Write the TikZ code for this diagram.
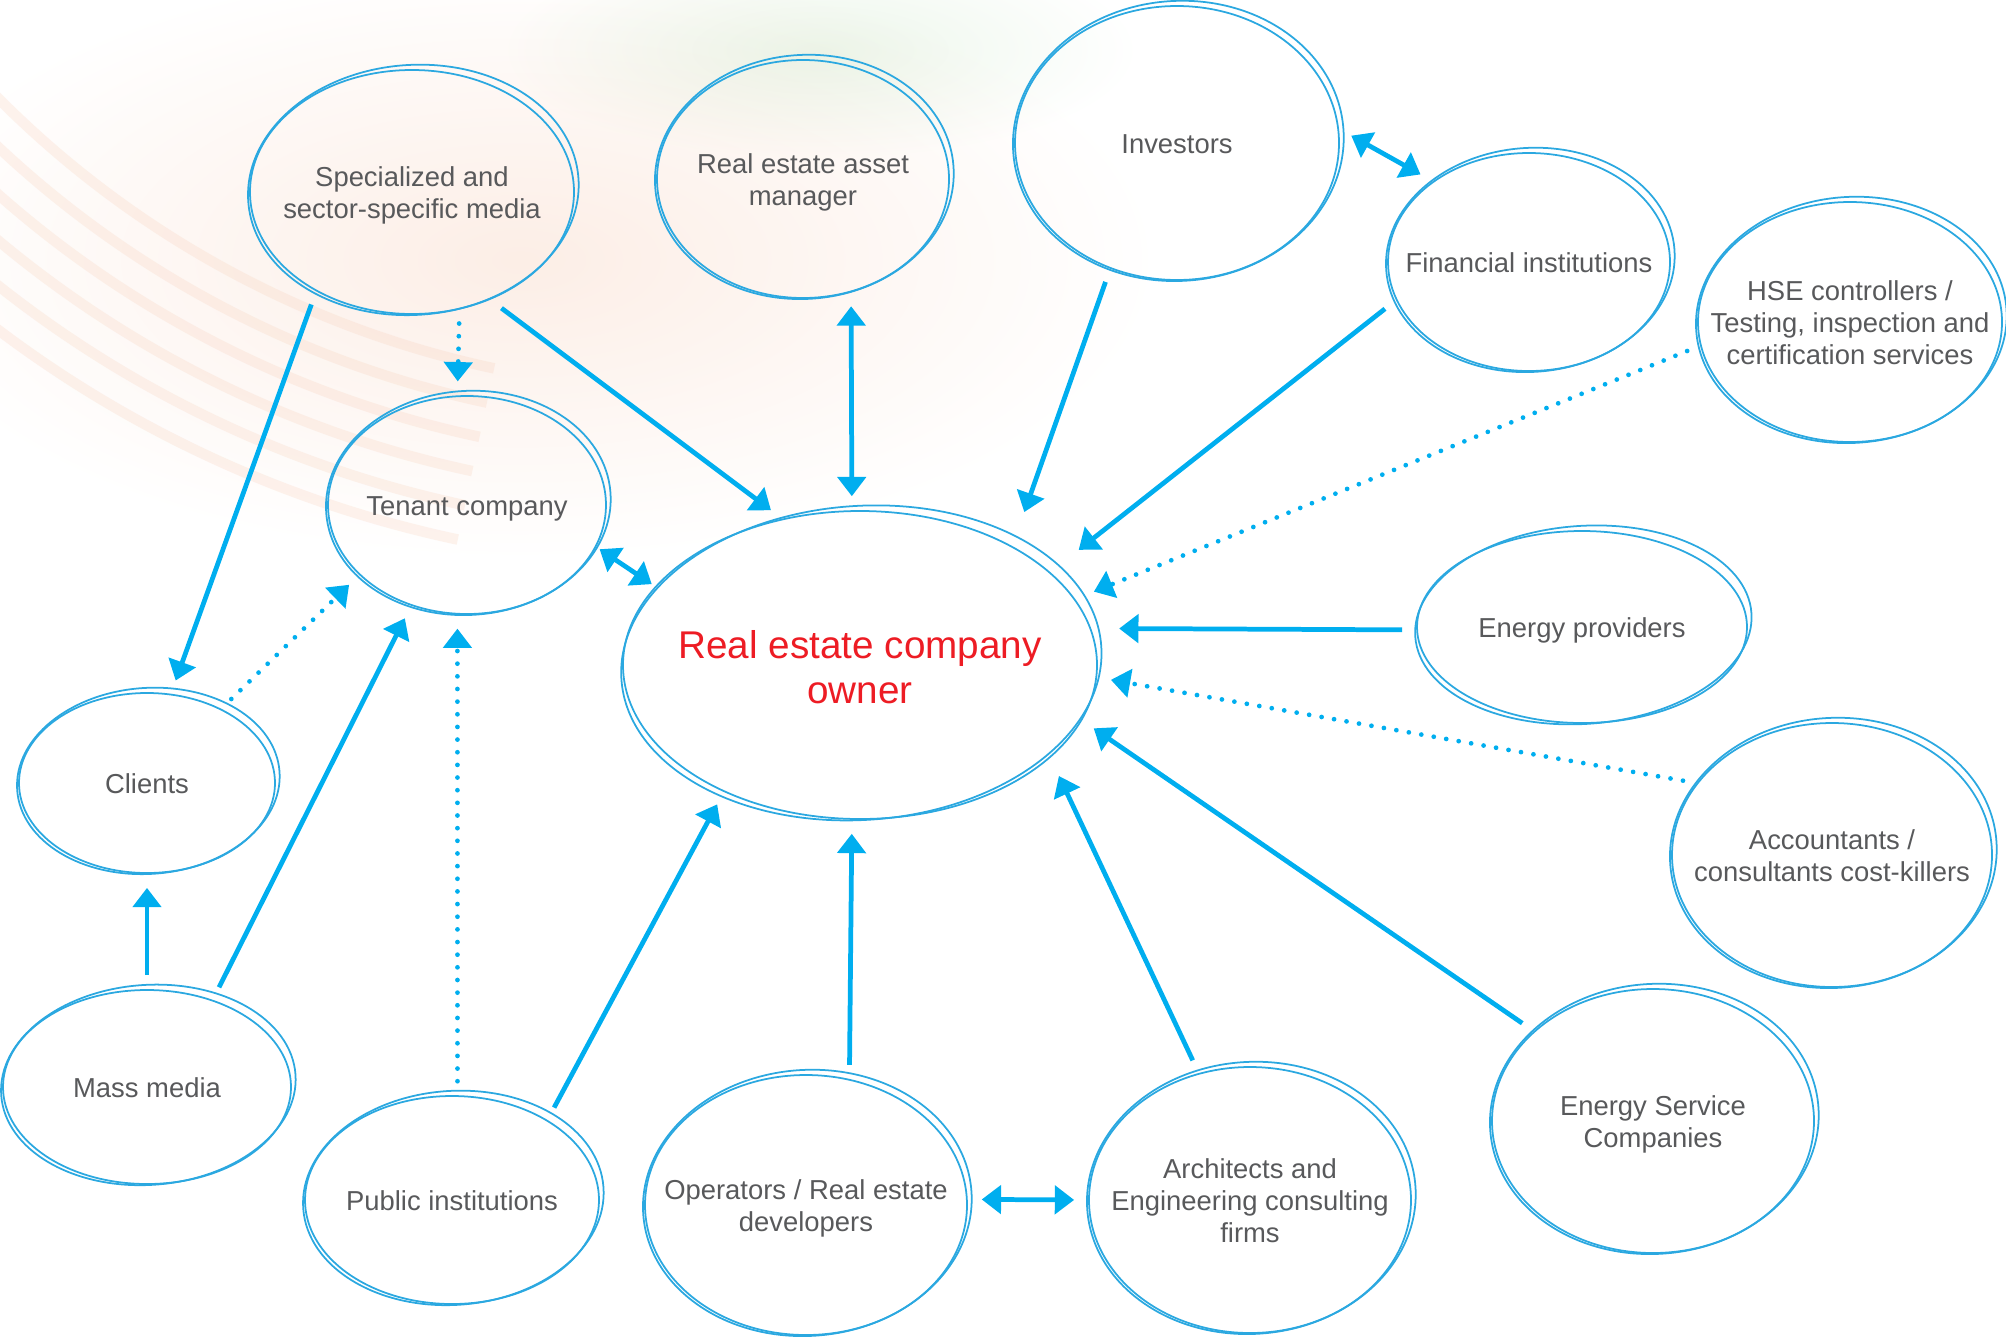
\documentclass[tikz,border=0pt]{standalone}
\usepackage{fontspec}
\setmainfont{Liberation Sans}
\usetikzlibrary{positioning}
\usetikzlibrary{arrows.meta}
\usetikzlibrary{shapes.geometric}
\definecolor{skyline}{HTML}{00AEEF}
\definecolor{ringblue}{HTML}{2BA8E0}
\definecolor{labelgrey}{HTML}{58595B}
\definecolor{ownerred}{HTML}{ED1C24}
\definecolor{swirlorange}{HTML}{F6C9B0}
\definecolor{swirlgreen}{HTML}{CFE8CB}

\tikzset{
  bubble/.style={ellipse, draw=ringblue, line width=0.5pt, inner sep=0pt,
    text=labelgrey, font=\fontsize{7.8}{9.1}\selectfont},
  ownerbubble/.style={bubble, text=ownerred, font=\fontsize{11}{12.8}\selectfont},
  ring/.style={draw=ringblue, line width=0.5pt},
  link/.style={skyline, line width=1.35pt, shorten <=0.14cm, shorten >=0.14cm},
  dotlink/.style={link, line cap=round, dash pattern=on 0pt off 3.6pt},
  swirl/.style={swirlorange, line width=3pt, opacity=0.22},
  glow/.style={blend mode=multiply, outer color=white}
}

% text of a bubble, kept out of the ellipse size
\newcommand{\bubtext}[1]{\smash{\makebox[0pt]{\raisebox{-0.42em}{\begin{tabular}{@{}c@{}}#1\end{tabular}}}}}
% bubble with a second, slightly turned outline
\newcommand{\bubble}[6][bubble]{%
  \pgfmathsetmacro{\bubw}{2*#4}\pgfmathsetmacro{\bubh}{2*#5}%
  \pgfmathsetmacro{\ringx}{#4+0.035}\pgfmathsetmacro{\ringy}{#5+0.03}%
  \node[#1, minimum width=\bubw cm, minimum height=\bubh cm] (#2) at (#3) {\bubtext{#6}};
  \draw[ring, rotate around={4:(#2.center)}] ([shift={(0.015,0.02)}]#2.center)
    ellipse [x radius=\ringx, y radius=\ringy];
}

\begin{document}
\begin{tikzpicture}[>={Triangle[width=8pt,length=5.5pt]}]
  \useasboundingbox (0,0) rectangle (20.06,-13.39);

  % background swirl
  \shade[glow, inner color=swirlorange!32] (5.2,-2.6) ellipse [x radius=6.4, y radius=3.0];
  \shade[glow, inner color=swirlgreen!40] (8.2,-0.5) ellipse [x radius=3.2, y radius=1.1];
  \foreach \r in {9.9,10.25,...,11.7}
    \draw[swirl] (7,6) ++(214:\r) arc (214:258:\r);

  % top row
  \bubble{spec}{4.12,-1.92}{1.62}{1.22}{Specialized and\\sector-specific media}
  \bubble{asset}{8.03,-1.79}{1.46}{1.19}{Real estate asset\\manager}
  \bubble{invest}{11.77,-1.43}{1.62}{1.37}{Investors}
  \bubble{fin}{15.29,-2.62}{1.41}{1.09}{Financial institutions}
  \bubble{hse}{18.50,-3.22}{1.52}{1.20}{HSE controllers /\\Testing, inspection and\\certification services}

  % middle
  \bubble{tenant}{4.67,-5.05}{1.39}{1.09}{Tenant company}
  \bubble[ownerbubble]{owner}{8.60,-6.65}{2.37}{1.54}{Real estate company\\owner}
  \bubble{energy}{15.82,-6.27}{1.65}{0.96}{Energy providers}
  \bubble{clients}{1.47,-7.83}{1.28}{0.90}{Clients}
  \bubble{account}{18.32,-8.55}{1.60}{1.32}{Accountants /\\consultants cost-killers}

  % bottom row
  \bubble{mass}{1.47,-10.87}{1.44}{0.97}{Mass media}
  \bubble{public}{4.52,-12.00}{1.47}{1.04}{Public institutions}
  \bubble{ops}{8.06,-12.05}{1.61}{1.30}{Operators / Real estate\\developers}
  \bubble{arch}{12.50,-12.00}{1.61}{1.33}{Architects and\\Engineering consulting\\firms}
  \bubble{esco}{16.53,-11.21}{1.61}{1.32}{Energy Service\\Companies}

  % connectors
  \draw[link, ->] (spec.226) -- (clients.75);
  \draw[dotlink, ->] (spec.292) -- (tenant.95);
  \draw[link, ->] (spec.306) -- (owner.118);
  \draw[link, <->] (asset.293) -- (owner.93);
  \draw[link, ->, shorten >=0.36cm] (invest.242) -- (owner.38);
  \draw[link, <->] (invest.5) -- (fin.140);
  \draw[link, ->, shorten >=0.36cm] (fin.196) -- (owner.26);
  \draw[dotlink, ->, shorten >=0.2cm] (hse.189) -- (owner.17);
  \draw[link, <->, shorten <=0.04cm, shorten >=0.04cm] (tenant.342) -- (owner.159);
  \draw[link, ->, shorten >=0.28cm] (energy.181) -- (owner.9);
  \draw[dotlink, ->] (account.152) -- (owner.357);
  \draw[link, ->] (esco.143) -- (owner.346);
  \draw[link, ->, shorten >=0.2cm] (arch.112) -- (owner.334);
  \draw[link, ->] (ops.71) -- (owner.267);
  \draw[link, <->] (ops.2) -- (arch.180);
  \draw[link, ->] (public.40) -- (owner.223);
  \draw[dotlink, ->] (public.87) -- (tenant.265);
  \draw[link, ->] (mass.53) -- (tenant.241);
  \draw[link, ->] (mass.90) -- (clients.270);
  \draw[dotlink, ->] (clients.45) -- (tenant.213);
\end{tikzpicture}
\end{document}
